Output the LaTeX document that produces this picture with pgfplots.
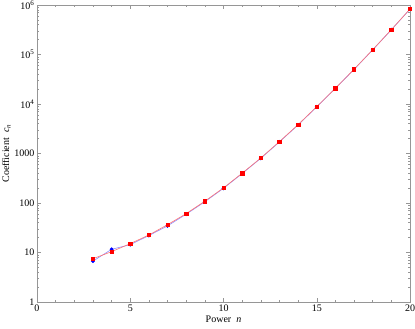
\documentclass[border=0pt]{standalone}
\usepackage{fontspec}
\setmainfont{Liberation Serif}
\usepackage{pgfplots}
\pgfplotsset{compat=1.18}
\usetikzlibrary{calc}
\definecolor{framegray}{RGB}{150,150,150}
\begin{document}
\begin{tikzpicture}
\begin{axis}[
  scale only axis,
  width=373pt, height=297pt,
  ymode=log,
  xmin=0, xmax=20, ymin=1, ymax=1e6,
  axis line style={framegray, line width=0.6pt},
  tick style={framegray, line width=0.5pt},
  tick align=inside,
  major tick length=4pt, minor tick length=2.2pt,
  xtick={0,5,10,15,20},
  minor xtick={1,2,3,4,6,7,8,9,11,12,13,14,16,17,18,19},
  ytick={1,10,100,1000,1e4,1e5,1e6},
  yticklabels={1,10,100,1000,10\textsuperscript{4},10\textsuperscript{5},10\textsuperscript{6}},
  /pgf/number format/assume math mode=true,
  ticklabel style={font=\fontsize{10}{12}\selectfont, black},
  xticklabel style={yshift=1pt},
  yticklabel style={xshift=1pt},
  xlabel={Power\ \ \textit{n}},
  ylabel={Coefficient\ \ \textit{c}\textsubscript{\textit{n}}},
  label style={font=\fontsize{10}{12}\selectfont},
  xlabel style={yshift=2pt},
  ylabel style={yshift=-3pt},
]
\addplot[color=blue!45, line width=0.6pt, mark=*, mark size=1.6pt,
  mark options={draw=blue, fill=blue}] coordinates {
(3,6.7) (4,11.6) (5,14.4) (6,22.0) (7,34.5) (8,59.5) (9,106) (10,198)
(11,393) (12,800) (13,1710) (14,3780) (15,8750) (16,20600) (17,50000)
(18,124000) (19,316000) (20,825000)};
\addplot[color=red!55, line width=0.6pt, mark=square*, mark size=1.7pt,
  mark options={draw=red, fill=red}] coordinates {
(3,7.5) (4,10.4) (5,15.1) (6,22.6) (7,36.5) (8,61) (9,109) (10,202)
(11,400) (12,812) (13,1740) (14,3830) (15,8850) (16,20800) (17,50300)
(18,125000) (19,318000) (20,830000)};
\end{axis}
\pgfresetboundingbox
\path ($(current axis.south west)+(-37pt,-26pt)$) rectangle ($(current axis.north east)+(5pt,5pt)$);
\end{tikzpicture}
\end{document}
